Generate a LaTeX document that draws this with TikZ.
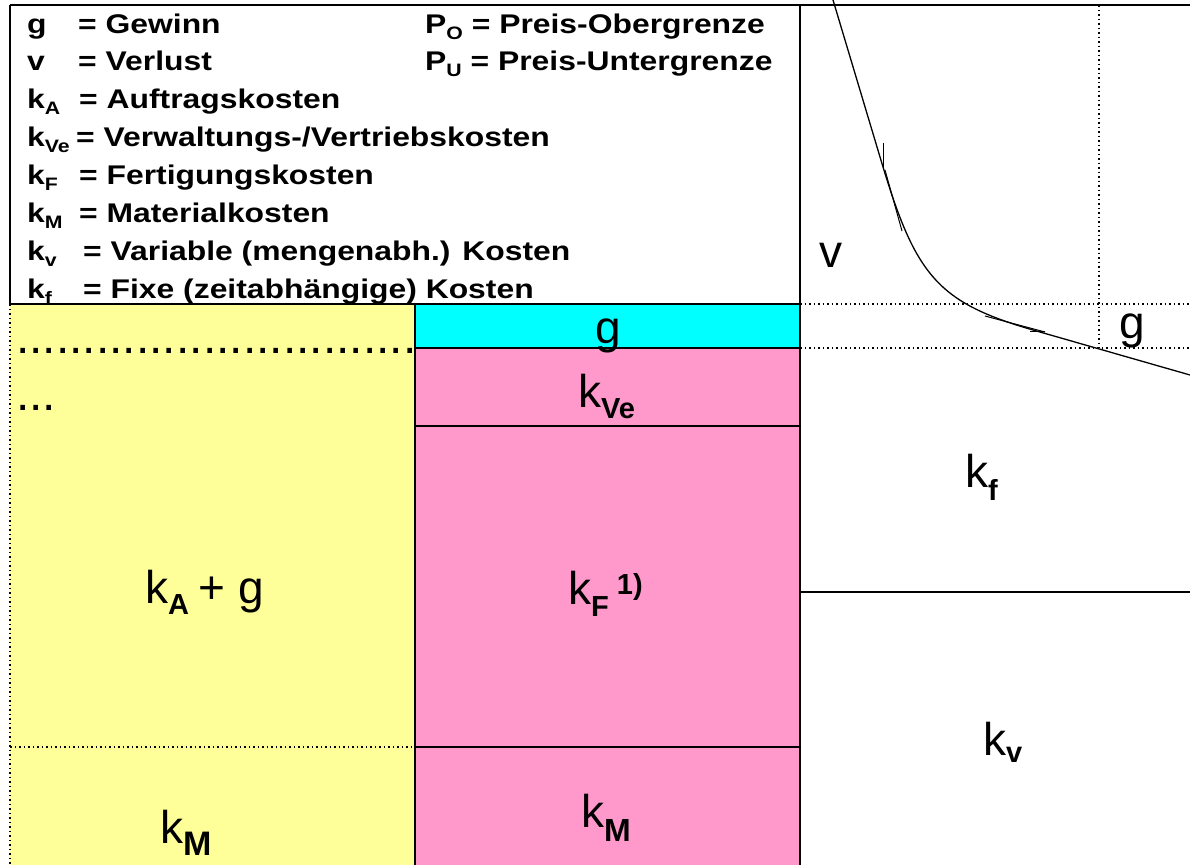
\documentclass[tikz,border=0pt]{standalone}
\usepackage{fontspec}
\setmainfont{Liberation Sans}
\newfontfamily\legfont[FakeStretch=1.18]{Liberation Sans}
\definecolor{yel}{HTML}{FFFF99}
\definecolor{pnk}{HTML}{FF99CC}
\definecolor{cyn}{HTML}{00FFFF}
\newcommand\mylsub[1]{\raisebox{-6pt}{\fontsize{18}{20}\selectfont #1}}
\newcommand\mybsub[2]{\raisebox{#1pt}{\bfseries\fontsize{29}{31}\selectfont #2}}
\tikzset{
  leg/.style={anchor=base west, inner sep=0pt, font=\legfont\bfseries\fontsize{27}{30}\selectfont},
  big/.style={anchor=base west, inner sep=0pt, font=\fontsize{46}{50}\selectfont},
  frame/.style={line width=1.5pt, black},
  dotl/.style={line width=1.2pt, black, dash pattern=on 1.5pt off 3pt},
  curve/.style={line width=1.3pt, black}
}
\begin{document}
\begin{tikzpicture}[x=1pt,y=-1pt]
\useasboundingbox (0,0) rectangle (1190,865);
% fills
\fill[yel] (10,304) rectangle (415,865);
\fill[cyn] (415,304) rectangle (800,348);
\fill[pnk] (415,348) rectangle (800,865);
% frame lines
\draw[frame] (10,5) -- (1190,5);
\draw[frame] (10,5) -- (10,304) -- (800,304);
\draw[frame] (800,5) -- (800,865);
\draw[frame] (415,304) -- (415,865);
\draw[frame] (415,348) -- (800,348);
\draw[frame] (415,426) -- (800,426);
\draw[frame] (415,747) -- (800,747);
\draw[frame] (800,592) -- (1190,592);
\draw[dotl] (10,304) -- (10,865);
\draw[dotl] (10,747) -- (415,747);
\draw[dotl] (800,304) -- (1190,304);
\draw[dotl] (800,348) -- (1190,348);
\draw[dotl] (1099,5) -- (1099,348);
% curve
\draw[curve] (833,0) -- (883,167) .. controls (917,279) and (940,304) .. (1040,332) -- (1190,375);
\draw[line width=1pt] (883,143) -- (883,167);
\draw[line width=1pt] (885,170) -- (902,231);
\draw[line width=1pt] (985,316) -- (1045,332);
\draw[line width=1pt] (1030,331.5) -- (1045,331.5);
% legend
\node[leg] (s1) at (27,33) {g};
\node[leg] (t1) at (78,33) {= Gewinn};
\node[leg] (s2) at (27,70.9) {v};
\node[leg] (t2) at (78,70.9) {= Verlust};
\node[leg] (s3) at (27,108.8) {k\mylsub{A}};
\node[leg] (t3) at (79,108.8) {= Auftragskosten};
\node[leg] (s4) at (27,146.7) {k\mylsub{Ve}};
\node[leg] (t4) at (76,146.7) {= Verwaltungs-/Vertriebskosten};
\node[leg] (s5) at (27,184.6) {k\mylsub{F}};
\node[leg] (t5) at (79,184.6) {= Fertigungskosten};
\node[leg] (s6) at (27,222.5) {k\mylsub{M}};
\node[leg] (t6) at (79,222.5) {= Materialkosten};
\node[leg] (s7) at (27,260.4) {k\mylsub{v}};
\node[leg] (t7) at (83,260.4) {= Variable (mengenabh.) Kosten};
\node[leg] (s8) at (27,298.3) {k\mylsub{f}};
\node[leg] (t8) at (83,298.3) {= Fixe (zeitabhängige) Kosten};
\node[leg] (po) at (425,33) {P\mylsub{O} = Preis-Obergrenze};
\node[leg] (pu) at (425,70.9) {P\mylsub{U} = Preis-Untergrenze};
% dots
\node[anchor=base west, inner sep=0pt, font=\fontsize{48}{50}\selectfont] (dots1) at (16,353) {..............................};
\node[anchor=base west, inner sep=0pt, font=\fontsize{48}{50}\selectfont] (dots2) at (16,410) {...};
% big labels
\node[big] (gcy) at (595,343) {g};
\node[big] (kve) at (578,407) {k\mybsub{-11}{Ve}};
\node[big] (kf1) at (568,604) {k\mybsub{-12}{F}\hspace{8pt}\mybsub{10}{1)}};
\node[big] (kag) at (145,603) {k\mybsub{-11}{A}\hspace{-3pt} + g};
\node[big] (kmy) at (160,843) {k\raisebox{-12pt}{\bfseries\fontsize{34}{36}\selectfont M}};
\node[big] (kmp) at (581,827) {k\raisebox{-14pt}{\bfseries\fontsize{32}{34}\selectfont M}};
\node[big] (vl) at (819,267) {v};
\node[big] (gr) at (1119,338) {g};
\node[big] (kfr) at (965,487) {k\mybsub{-13}{f}};
\node[big] (kvr) at (983,755) {k\mybsub{-7}{v}};
\end{tikzpicture}
\end{document}
